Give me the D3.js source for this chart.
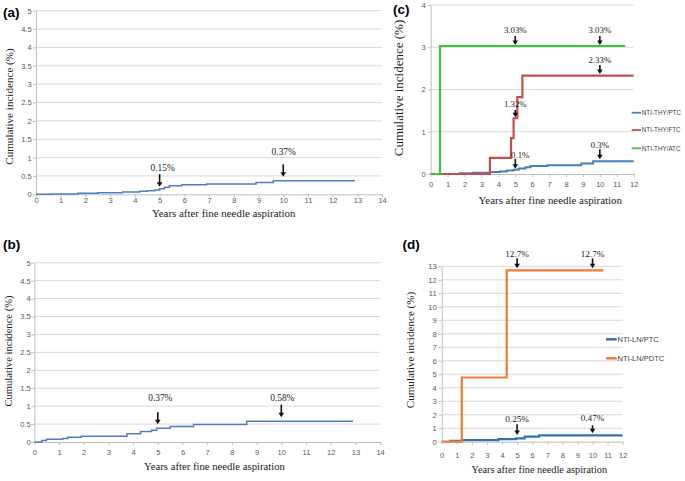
<!DOCTYPE html>
<html>
<head>
<meta charset="utf-8">
<script src="https://cdn.jsdelivr.net/npm/d3@7"></script>
<style>
  html, body { margin: 0; padding: 0; background: #fff; }
  svg { display: block; }
</style>
</head>
<body>
<svg id="chart" width="685" height="481"></svg>
<script>
// ---------------- DATA ----------------
// Panel (a)
const aTimes  = [0, 0.6, 1.7, 2.5, 3.5, 4.2, 4.5, 4.8, 5.0, 5.2, 5.4, 5.9, 6.9, 8.9, 9.6, 12.9];
const aValues = [0, 0.01, 0.03, 0.04, 0.06, 0.08, 0.10, 0.12, 0.15, 0.19, 0.23, 0.26, 0.28, 0.32, 0.37, 0.37];
// Panel (b)
const bTimes  = [0, 0.3, 0.5, 1.15, 1.35, 1.9, 3.75, 4.3, 4.75, 4.95, 5.5, 6.45, 8.6, 12.9];
const bValues = [0, 0.04, 0.08, 0.10, 0.13, 0.16, 0.23, 0.29, 0.33, 0.38, 0.43, 0.49, 0.58, 0.58];
// Panel (c)
const cPtcTimes  = [0, 1.7, 2.5, 3.5, 4.1, 4.5, 4.9, 5.2, 5.6, 5.9, 6.9, 8.9, 9.6, 12];
const cPtcValues = [0, 0.02, 0.03, 0.045, 0.06, 0.08, 0.10, 0.13, 0.16, 0.19, 0.21, 0.25, 0.30, 0.30];
const cFtcTimes  = [0.6, 3.5, 4.75, 4.9, 5.12, 5.42, 12];
const cFtcValues = [0, 0.38, 0.85, 1.32, 1.82, 2.33, 2.33];
const cAtcTimes  = [0, 0.55, 11.5];
const cAtcValues = [0, 3.03, 3.03];
// Panel (d)
const dPtcTimes   = [0.5, 1.33, 3.76, 4.93, 5.5, 6.45, 12];
const dPtcValues  = [0.06, 0.12, 0.19, 0.25, 0.37, 0.47, 0.47];
const dPdtcTimes  = [0, 1.33, 4.31, 10.72];
const dPdtcValues = [0, 4.76, 12.7, 12.7];

// Tick labels
const yTicksAB = [0, 0.5, 1, 1.5, 2, 2.5, 3, 3.5, 4, 4.5, 5];
const xTicksAB = [0, 1, 2, 3, 4, 5, 6, 7, 8, 9, 10, 11, 12, 13, 14];
const yTicksC  = [0, 1, 2, 3, 4];
const xTicksCD = [0, 1, 2, 3, 4, 5, 6, 7, 8, 9, 10, 11, 12];
const yTicksD  = [0, 1, 2, 3, 4, 5, 6, 7, 8, 9, 10, 11, 12, 13];

// Annotations: [time, value, label]
const aNotes = [[5, 0.15, "0.15%"], [10, 0.37, "0.37%"]];
const bNotes = [[5, 0.37, "0.37%"], [10, 0.58, "0.58%"]];
const cNotes = [[5, 3.03, "3.03%"], [10, 3.03, "3.03%"], [10, 2.33, "2.33%"],
                [5, 1.32, "1.32%"], [5, 0.10, "0.1%"], [10, 0.30, "0.3%"]];
const dNotes = [[5, 12.7, "12.7%"], [10, 12.7, "12.7%"], [5, 0.25, "0.25%"], [10, 0.47, "0.47%"]];

// Legend names
const cNames = ["NTI-THY/PTC", "NTI-THY/FTC", "NTI-THY/ATC"];
const dNames = ["NTI-LN/PTC", "NTI-LN/PDTC"];

const xTitle = "Years after fine needle aspiration";
const yTitle = "Cumulative incidence (%)";

// ---------------- DRAWING ----------------
const svg = d3.select("#chart");
const SERIF = "'Liberation Serif', 'Times New Roman', serif";
const SANS = "'Liberation Sans', Arial, sans-serif";
const zip = (t, v) => t.map((d, i) => [d, v[i]]);

function panel(cfg) {
  const g = svg.append("g");
  const x = d3.scaleLinear().domain(cfg.xDomain).range([cfg.left, cfg.right]);
  const y = d3.scaleLinear().domain(cfg.yDomain).range([cfg.bottom, cfg.top]);

  // gridlines
  g.append("g").selectAll("line").data(cfg.yTicks.filter(d => d > 0)).join("line")
    .attr("x1", cfg.left).attr("x2", cfg.right)
    .attr("y1", d => y(d)).attr("y2", d => y(d))
    .attr("stroke", "#d9d9d9").attr("stroke-width", 1);

  // axes
  const xa = g.append("g").attr("transform", `translate(0,${cfg.bottom})`)
    .call(d3.axisBottom(x).tickValues(cfg.xTicks).tickFormat(d => String(d))
      .tickSize(3).tickSizeOuter(0).tickPadding(cfg.xPad));
  const ya = g.append("g").attr("transform", `translate(${cfg.left},0)`)
    .call(d3.axisLeft(y).tickValues(cfg.yTicks).tickFormat(d => String(d))
      .tickSize(3).tickSizeOuter(0).tickPadding(cfg.yPad));
  [xa, ya].forEach(a => {
    a.select(".domain").attr("stroke", "#bfbfbf");
    a.selectAll(".tick line").attr("stroke", "#bfbfbf");
    a.selectAll(".tick text").attr("fill", "#595959")
      .style("font-family", SANS).style("font-size", cfg.tickFont + "px");
  });

  // series
  const line = d3.line().x(d => x(d[0])).y(d => y(d[1])).curve(d3.curveStepAfter);
  cfg.series.forEach(s => {
    g.append("path").datum(s.data).attr("d", line)
      .attr("fill", "none").attr("stroke", s.color).attr("stroke-width", s.width)
      .attr("stroke-linejoin", "miter").attr("stroke-linecap", "butt");
  });

  // annotations
  cfg.notes.forEach((n, i) => {
    const L = cfg.noteLayout[i];
    const ax = x(n[0]);
    const tip = y(n[1]) - L[0];
    const top = tip - L[1];
    const head = 4.5;
    g.append("line").attr("x1", ax).attr("x2", ax).attr("y1", top).attr("y2", tip - head + 0.5)
      .attr("stroke", "#111").attr("stroke-width", 1.6);
    g.append("path")
      .attr("d", `M${ax - 2.8},${tip - head} L${ax + 2.8},${tip - head} L${ax},${tip} Z`)
      .attr("fill", "#111");
    g.append("text").attr("x", ax + L[3]).attr("y", top - L[2])
      .attr("text-anchor", "middle")
      .style("font-family", SERIF).style("font-size", cfg.noteFont + "px")
      .attr("fill", "#222").text(n[2]);
  });

  // axis titles
  g.append("text").attr("x", cfg.xTitlePos[0]).attr("y", cfg.xTitlePos[1])
    .attr("text-anchor", "middle").style("font-family", SERIF)
    .style("font-size", cfg.xTitleFont + "px").attr("fill", "#222").text(xTitle);
  g.append("text")
    .attr("transform", `translate(${cfg.yTitlePos[0]},${cfg.yTitlePos[1]}) rotate(-90)`)
    .attr("text-anchor", "middle").attr("dy", "0.35em").style("font-family", SERIF)
    .style("font-size", cfg.yTitleFont + "px").attr("fill", "#222").text(yTitle);

  // panel label
  g.append("text").attr("x", cfg.labelPos[0]).attr("y", cfg.labelPos[1])
    .style("font-family", SANS).style("font-weight", "bold").style("font-size", "13.5px")
    .attr("fill", "#000").text(cfg.label);

  // legend
  if (cfg.legend) {
    const lg = cfg.legend;
    lg.names.forEach((name, i) => {
      const ly = lg.ys[i];
      g.append("line").attr("x1", lg.x0).attr("x2", lg.x1).attr("y1", ly).attr("y2", ly)
        .attr("stroke", lg.colors[i]).attr("stroke-width", lg.width);
      g.append("text").attr("x", lg.x1 + 0.8).attr("y", ly).attr("dy", "0.35em")
        .style("font-family", SANS).style("font-size", lg.font + "px")
        .attr("fill", "#404040").text(name);
    });
  }
}

const blueAB = "#4a7ebf";

panel({
  label: "(a)", labelPos: [3, 17.3],
  xDomain: [0, 14], yDomain: [0, 5], left: 36, right: 382.1, top: 10.7, bottom: 194.3,
  xTicks: xTicksAB, yTicks: yTicksAB, xPad: 0.4, yPad: 1.3, tickFont: 7.6,
  series: [{ data: zip(aTimes, aValues), color: blueAB, width: 1.5 }],
  notes: aNotes, noteFont: 9.4,
  noteLayout: [[2, 12.7, 3.5, 3], [4, 12.4, 9.8, 0.5]],
  xTitlePos: [223.7, 217.2], xTitleFont: 10.9,
  yTitlePos: [9.5, 106.5], yTitleFont: 11.1
});

panel({
  label: "(b)", labelPos: [3, 249],
  xDomain: [0, 14], yDomain: [0, 5], left: 34.3, right: 380.1, top: 262.7, bottom: 442,
  xTicks: xTicksAB, yTicks: yTicksAB, xPad: 4.2, yPad: 0.6, tickFont: 7.6,
  series: [{ data: zip(bTimes, bValues), color: blueAB, width: 1.5 }],
  notes: bNotes, noteFont: 9.4,
  noteLayout: [[4.4, 12, 11.6, 2.5], [4, 12.6, 3.7, 1]],
  xTitlePos: [214.5, 469.5], xTitleFont: 10.7,
  yTitlePos: [8.5, 351], yTitleFont: 10.6
});

panel({
  label: "(c)", labelPos: [393, 14],
  xDomain: [0, 12], yDomain: [0, 4], left: 430.7, right: 633.7, top: 5, bottom: 174,
  xTicks: xTicksCD, yTicks: yTicksC, xPad: 4.7, yPad: 2, tickFont: 7.6,
  series: [
    { data: zip(cPtcTimes, cPtcValues), color: "#4a7ebb", width: 2 },
    { data: zip(cFtcTimes, cFtcValues), color: "#c0504d", width: 2.2 },
    { data: zip(cAtcTimes, cAtcValues), color: "#3cc43c", width: 2.2 }
  ],
  notes: cNotes, noteFont: 8.8,
  noteLayout: [[1, 9, 2.5, 0], [1, 9, 2.5, 0], [1.6, 9, 1.7, 0],
               [1, 7.3, 2.7, 0], [1, 10, 1, 5], [2, 10, 1, 0]],
  xTitlePos: [550.3, 203.5], xTitleFont: 10.9,
  yTitlePos: [398, 88], yTitleFont: 13,
  legend: { names: cNames, colors: ["#4a7ebb", "#c0504d", "#3cc43c"], ys: [112.7, 130, 148.3],
            x0: 631.7, x1: 641, width: 1.8, font: 6.3 }
});

panel({
  label: "(d)", labelPos: [402.5, 249],
  xDomain: [0, 12], yDomain: [0, 13], left: 441.7, right: 622.7, top: 266.3, bottom: 441.7,
  xTicks: xTicksCD, yTicks: yTicksD, xPad: 8.3, yPad: 2, tickFont: 7.6,
  series: [
    { data: zip(dPtcTimes, dPtcValues), color: "#2e75b6", width: 2.2 },
    { data: zip(dPdtcTimes, dPdtcValues), color: "#ed7d31", width: 2.2 }
  ],
  notes: dNotes, noteFont: 9.2,
  noteLayout: [[2, 10, 1.6, 0], [2, 10, 1.6, 0], [3.3, 10.7, 2.6, 0], [2, 8, 4, 0]],
  xTitlePos: [539.3, 473], xTitleFont: 10.3,
  yTitlePos: [410, 350], yTitleFont: 11.1,
  legend: { names: dNames, colors: ["#2e75b6", "#ed7d31"], ys: [339.3, 358.3],
            x0: 606, x1: 616.7, width: 2.5, font: 7.5 }
});
</script>
</body>
</html>
